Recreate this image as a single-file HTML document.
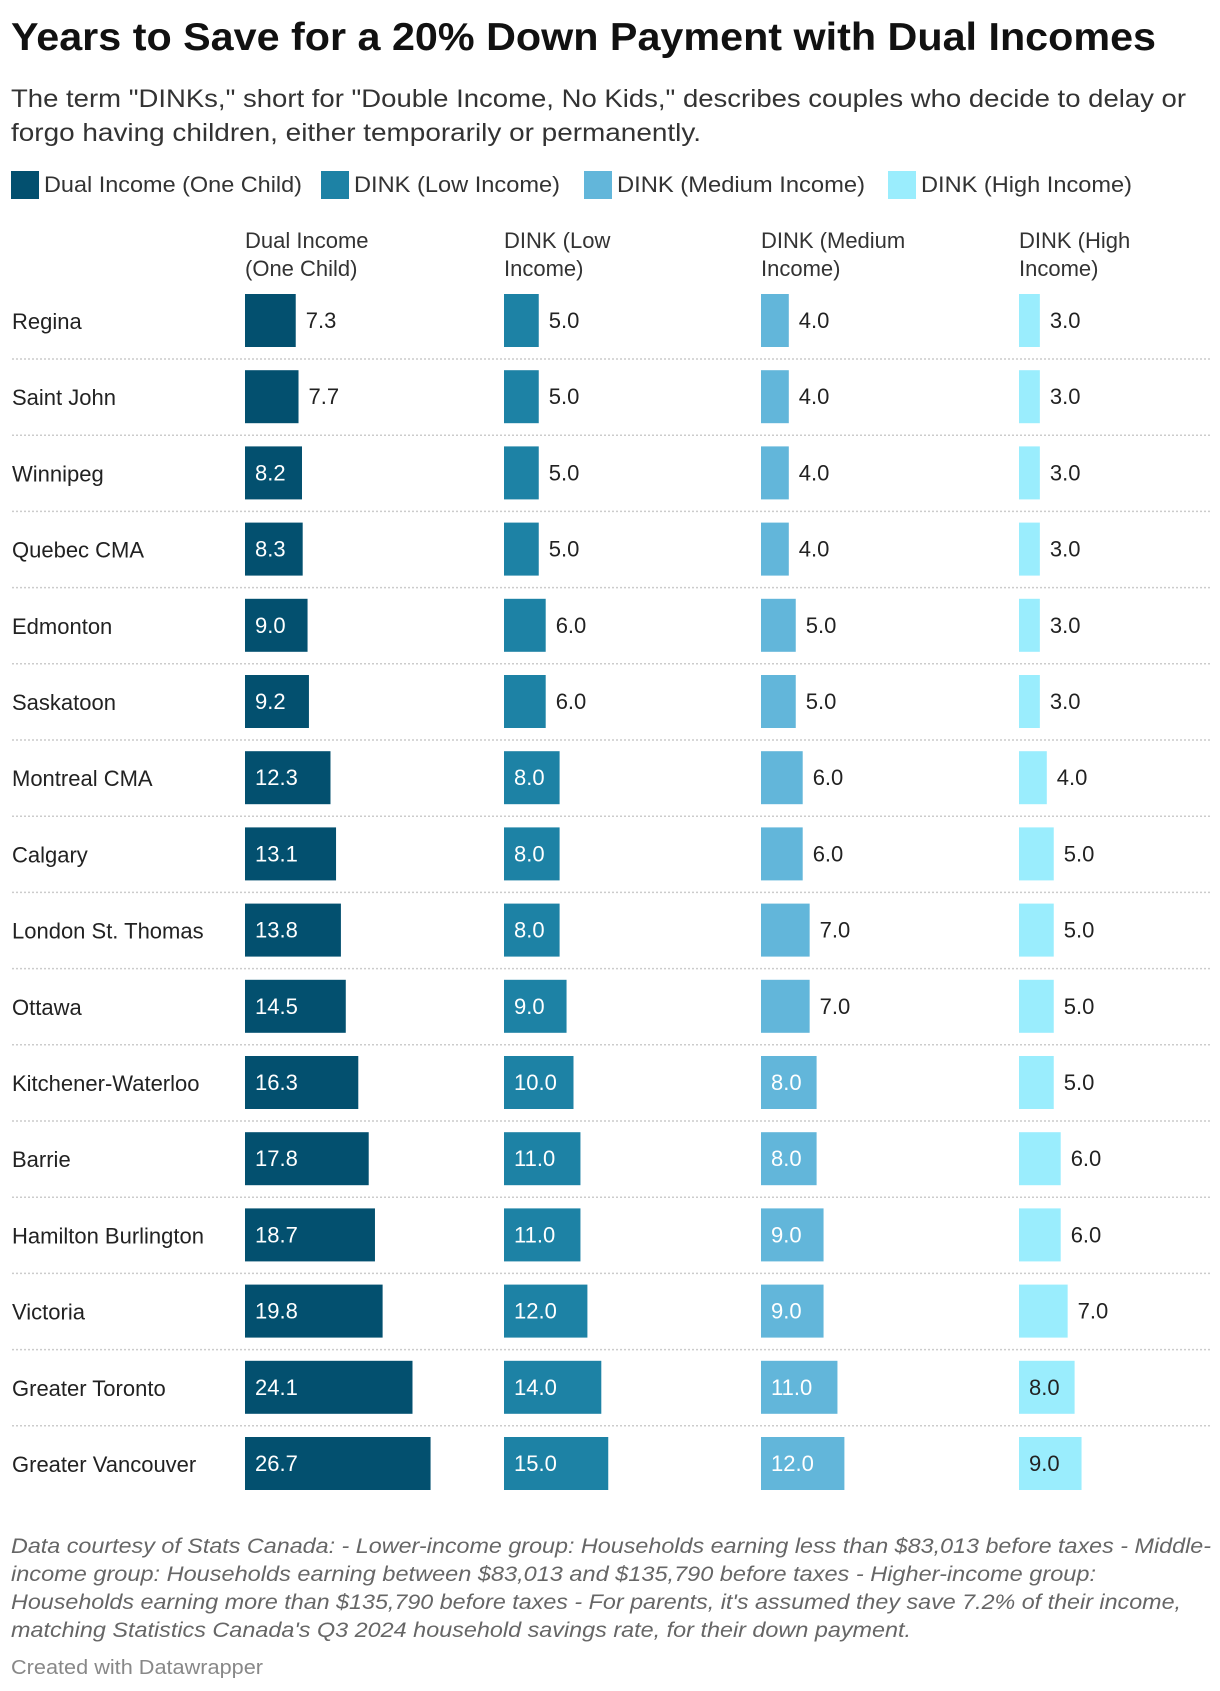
<!DOCTYPE html>
<html><head><meta charset="utf-8"><style>
body{margin:0;background:#fff;width:1220px;height:1686px;overflow:hidden;font-family:"Liberation Sans",sans-serif}
</style></head><body>
<svg id="c" width="1220" height="1686" xmlns="http://www.w3.org/2000/svg" font-family="Liberation Sans, sans-serif">
<text x="11" y="50" font-size="39" font-weight="bold" fill="#111" textLength="1145" lengthAdjust="spacingAndGlyphs">Years to Save for a 20% Down Payment with Dual Incomes</text>
<text x="11" y="107" font-size="25" fill="#333" textLength="1175" lengthAdjust="spacingAndGlyphs">The term "DINKs," short for "Double Income, No Kids," describes couples who decide to delay or</text>
<text x="11" y="141" font-size="25" fill="#333" textLength="690" lengthAdjust="spacingAndGlyphs">forgo having children, either temporarily or permanently.</text>
<g id="legend"></g>
<g id="heads"></g>
<g id="rows"></g>
<g font-size="21" font-style="italic" fill="#666">
<text x="11" y="1553" textLength="1200" lengthAdjust="spacingAndGlyphs">Data courtesy of Stats Canada: - Lower-income group: Households earning less than $83,013 before taxes - Middle-</text>
<text x="11" y="1581" textLength="1085" lengthAdjust="spacingAndGlyphs">income group: Households earning between $83,013 and $135,790 before taxes - Higher-income group:</text>
<text x="11" y="1609" textLength="1170" lengthAdjust="spacingAndGlyphs">Households earning more than $135,790 before taxes - For parents, it's assumed they save 7.2% of their income,</text>
<text x="11" y="1637" textLength="900" lengthAdjust="spacingAndGlyphs">matching Statistics Canada's Q3 2024 household savings rate, for their down payment.</text>
</g>
<text x="11" y="1674" font-size="20" fill="#888" textLength="252" lengthAdjust="spacingAndGlyphs">Created with Datawrapper</text>
</svg>
<script>
const cities=["Regina","Saint John","Winnipeg","Quebec CMA","Edmonton","Saskatoon","Montreal CMA","Calgary","London St. Thomas","Ottawa","Kitchener-Waterloo","Barrie","Hamilton Burlington","Victoria","Greater Toronto","Greater Vancouver"];
const dualOneChild=[7.3,7.7,8.2,8.3,9.0,9.2,12.3,13.1,13.8,14.5,16.3,17.8,18.7,19.8,24.1,26.7];
const dinkLow=[5,5,5,5,6,6,8,8,8,9,10,11,11,12,14,15];
const dinkMedium=[4,4,4,4,5,5,6,6,7,7,8,8,9,9,11,12];
const dinkHigh=[3,3,3,3,3,3,4,5,5,5,5,6,6,7,8,9];
const seriesNames=["Dual Income (One Child)","DINK (Low Income)","DINK (Medium Income)","DINK (High Income)"];
const headLines=[["Dual Income","(One Child)"],["DINK (Low","Income)"],["DINK (Medium","Income)"],["DINK (High","Income)"]];
const series=[dualOneChild,dinkLow,dinkMedium,dinkHigh];
const colors=["#03506f","#1d82a5","#62b6da","#9aedfd"];
const colX=[245,504,761,1019];
const scale=6.95;
const x=v=>v*scale;
const rowY=i=>294+i*76.2;
const NS="http://www.w3.org/2000/svg";
function mk(t,a,p){const e=document.createElementNS(NS,t);for(const k in a)e.setAttribute(k,a[k]);p.appendChild(e);return e;}
const lg=document.getElementById('legend');
const lgX=[11,321,584,888],lgW=[258,206,248,211];
seriesNames.forEach((n,i)=>{
 const r=mk('rect',{x:lgX[i],y:171,width:28,height:28,fill:colors[i]},lg);
 
 
 const t=mk('text',{x:lgX[i]+33,y:192,'font-size':22,fill:'#333',textLength:lgW[i],lengthAdjust:'spacingAndGlyphs'},lg);
 t.textContent=n;
 
 
});
const hd=document.getElementById('heads');
headLines.forEach((ls,i)=>ls.forEach((l,j)=>{
 const t=mk('text',{x:colX[i],y:248+j*28,'font-size':22,fill:'#333'},hd);
 t.textContent=l;
 
 
}));
const rg=document.getElementById('rows');
cities.forEach((c,i)=>{
 const y=rowY(i);
 const t=mk('text',{x:12,y:y+35,'font-size':22,fill:'#222'},rg);
 t.textContent=c;
 
 
 if(i<cities.length-1){
  const l=mk('line',{x1:12,x2:1210,y1:y+65,y2:y+65,stroke:'#ccc','stroke-width':1.5,'stroke-dasharray':'2 2'},rg);
  
  
 }
 series.forEach((s,k)=>{
  const v=s[i],w=x(v);
  const b=mk('rect',{x:colX[k],y:y,width:w,height:53,fill:colors[k]},rg);
  
  
  const inside=v>=8;
  const vt=mk('text',{x:inside?colX[k]+10:colX[k]+w+10,y:y+34,'font-size':22,fill:inside?(k==3?'#222':'#fff'):'#222'},rg);
  vt.textContent=v.toFixed(1);
  
  
 });
});
</script>
</body></html>
